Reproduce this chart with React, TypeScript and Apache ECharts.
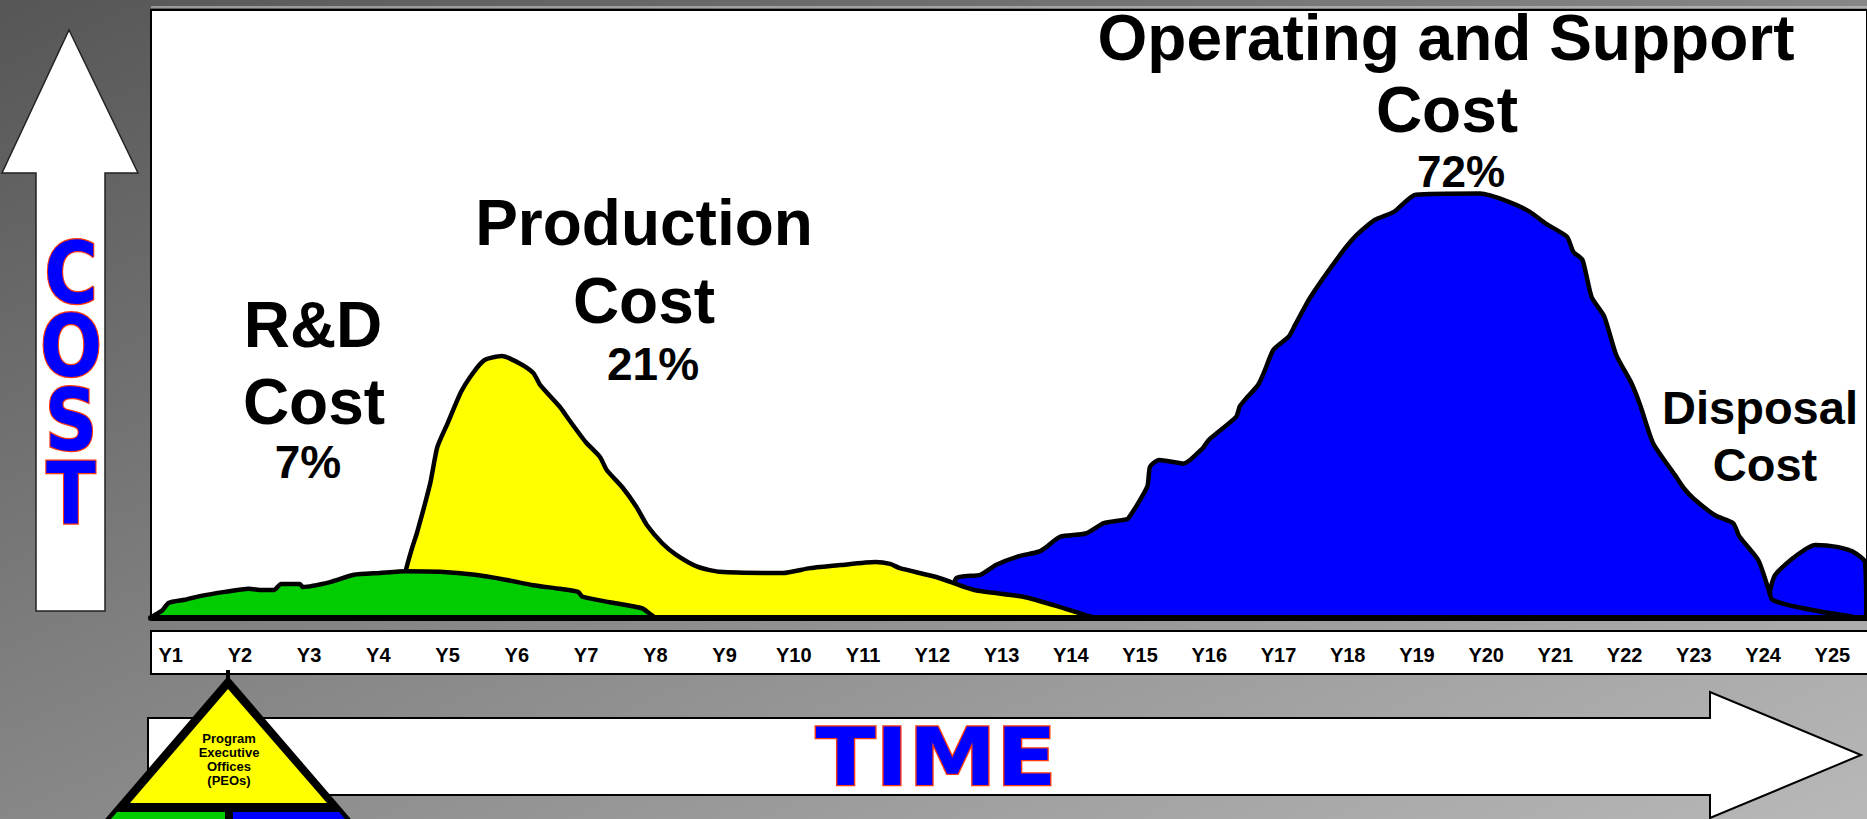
import React, { useEffect, useRef } from "react";
import * as echarts from "echarts";

// Year tick labels
const years = [
  "Y1","Y2","Y3","Y4","Y5","Y6","Y7","Y8","Y9","Y10","Y11","Y12","Y13",
  "Y14","Y15","Y16","Y17","Y18","Y19","Y20","Y21","Y22","Y23","Y24","Y25",
];

// Curves: [year position (1 = Y1), relative cost (0..100 of plot height)]
const rdCurve: [number, number][] = [
  [0.72,0],[0.77,0.5],[0.87,1.2],[0.97,2.5],[1.2,3.0],[1.41,3.6],[1.77,4.3],[2.11,4.8],
  [2.3,4.6],[2.47,4.6],[2.57,5.6],[2.84,5.6],[2.88,5.1],[3.27,5.9],[3.61,7.1],[3.98,7.4],
  [4.35,7.7],[4.84,7.6],[5.34,7.1],[5.77,6.3],[6.17,5.4],[6.55,4.8],[6.81,4.3],[6.87,3.5],
  [7.26,2.6],[7.72,1.6],[7.82,0.8],[7.91,0],
];

const productionCurve: [number, number][] = [
  [4.27,0],[4.35,7.7],[4.44,11.5],[4.51,14.0],[4.7,22.2],[4.8,28.1],[4.95,32.1],[5.14,37.2],
  [5.31,40.3],[5.47,42.4],[5.72,43.1],[5.97,41.9],[6.17,40.3],[6.27,38.3],[6.55,34.7],
  [6.68,32.6],[6.92,28.9],[7.12,26.5],[7.22,24.3],[7.44,21.5],[7.64,18.3],[7.79,15.3],
  [8.01,12.3],[8.21,10.4],[8.52,8.4],[8.83,7.6],[9.73,7.4],[10.12,8.2],[10.55,8.7],
  [11.05,9.2],[11.26,8.9],[11.4,8.2],[11.93,6.7],[12.46,4.6],[13.16,3.5],[13.69,1.8],
  [14.04,0.5],[14.19,0],
];

const operatingCurve: [number, number][] = [
  [12.15,0],[12.2,6.5],[12.55,7.1],[12.77,8.7],[13.08,10.1],[13.38,10.9],[13.47,11.5],
  [13.69,13.4],[14.05,13.9],[14.31,15.6],[14.57,16.1],[14.66,16.4],[14.93,21.6],[14.97,24.9],
  [15.1,26.0],[15.45,25.4],[15.72,27.9],[15.81,29.3],[16.2,33.1],[16.25,34.8],[16.34,36.1],
  [16.51,38.3],[16.6,40.5],[16.73,44.1],[16.95,46.3],[17.04,48.2],[17.26,52.8],[17.7,60.0],
  [17.92,63.0],[18.18,65.5],[18.45,66.8],[18.76,69.6],[19.68,69.8],[20.08,68.5],[20.39,66.8],
  [20.61,64.9],[20.92,62.7],[21.01,60.2],[21.14,58.9],[21.27,52.8],[21.45,49.6],[21.62,43.3],
  [21.84,38.6],[21.97,34.8],[22.15,28.7],[22.46,23.5],[22.59,21.3],[22.72,19.7],[23.03,16.9],
  [23.29,15.6],[23.38,13.4],[23.65,9.5],[23.79,4.9],[23.85,3.0],[24.2,1.8],[24.57,1.0],
  [25.0,0.2],[25.04,0],
];

const disposalCurve: [number, number][] = [
  [23.8,0],[23.82,4.6],[23.89,7.1],[24.15,9.9],[24.46,12.0],[24.77,11.7],[25.0,10.9],
  [25.17,9.2],[25.19,0],
];

const X_MIN = 0.715;
const X_MAX = 25.2;

const LABEL_FONT = '"Liberation Sans", Arial, Helvetica, sans-serif';
const HEAVY_FONT = '"DejaVu Sans", "Liberation Sans", sans-serif';

function txt(text: string, x: number, y: number, size: number, extra: any = {}) {
  return {
    type: "text",
    x,
    y,
    z: 20,
    style: {
      text,
      x: 0,
      y: 0,
      fill: "#000",
      font: `bold ${size}px ${LABEL_FONT}`,
      textAlign: "center",
      textVerticalAlign: "middle",
      align: "center",
      verticalAlign: "middle",
    },
    ...extra,
  };
}

function heavy(text: string, x: number, y: number, size: number, scaleX: number) {
  return {
    type: "text",
    x,
    y,
    z: 20,
    scaleX,
    style: {
      text,
      x: 0,
      y: 0,
      fill: "#0000ff",
      stroke: "#ff3a10",
      lineWidth: 2.5,
      font: `bold ${size}px ${HEAVY_FONT}`,
      textAlign: "center",
      textVerticalAlign: "middle",
      align: "center",
      verticalAlign: "middle",
    },
  };
}

function areaSeries(name: string, data: [number, number][], color: string, z: number) {
  return {
    name,
    type: "line",
    xAxisIndex: 0,
    yAxisIndex: 0,
    data,
    z,
    smooth: 0.2,
    symbol: "none",
    showSymbol: false,
    lineStyle: { color: "#000", width: 4.5, join: "round", cap: "round" },
    areaStyle: { color, opacity: 1, origin: "start" },
    silent: true,
  };
}

export default function App() {
  const ref = useRef<HTMLDivElement>(null);

  useEffect(() => {
    if (!ref.current) return;
    const chart = echarts.init(ref.current, undefined, { renderer: "svg" });

    const graphic: any[] = [
      // thin light line above the plot box
      {
        type: "line",
        z: 1,
        shape: { x1: 151, y1: 7, x2: 1867, y2: 7 },
        style: { stroke: "#d8d8d8", lineWidth: 1 },
      },
      // up arrow (COST)
      {
        type: "polygon",
        z: 1,
        shape: {
          points: [[69, 30], [138, 173], [105, 173], [105, 611], [36, 611], [36, 173], [2, 173]],
        },
        style: { fill: "#fff", stroke: "#222", lineWidth: 1.5 },
      },
      heavy("C", 71, 274, 85, 0.86),
      heavy("O", 71, 347, 85, 0.86),
      heavy("S", 71, 421, 85, 0.86),
      heavy("T", 71, 494, 85, 0.86),
      // year label box
      {
        type: "rect",
        z: 1,
        shape: { x: 151, y: 631, width: 1730, height: 43 },
        style: { fill: "#fff", stroke: "#000", lineWidth: 2 },
      },
      // TIME arrow
      {
        type: "polygon",
        z: 1,
        shape: {
          points: [[148, 718], [1710, 718], [1710, 692], [1861, 755], [1710, 818], [1710, 795], [148, 795]],
        },
        style: { fill: "#fff", stroke: "#000", lineWidth: 2 },
      },
      heavy("TIME", 936, 757, 81, 1.09),
      // PEO triangle
      {
        type: "rect",
        z: 3,
        shape: { x: 226, y: 670, width: 4, height: 12 },
        style: { fill: "#000" },
      },
      {
        type: "polygon",
        z: 3,
        shape: { points: [[228, 676], [362, 832], [94, 832]] },
        style: { fill: "#000" },
      },
      {
        type: "polygon",
        z: 4,
        shape: { points: [[228, 689], [327, 803], [130, 803]] },
        style: { fill: "#ffff00" },
      },
      {
        type: "polygon",
        z: 4,
        shape: { points: [[117, 812], [225, 812], [225, 832], [100, 832]] },
        style: { fill: "#00cc00" },
      },
      {
        type: "polygon",
        z: 4,
        shape: { points: [[233, 812], [339, 812], [356, 832], [233, 832]] },
        style: { fill: "#0000ff" },
      },
      txt("Program", 229, 738, 13, { z: 21 }),
      txt("Executive", 229, 752, 13, { z: 21 }),
      txt("Offices", 229, 766, 13, { z: 21 }),
      txt("(PEOs)", 229, 780, 13, { z: 21 }),
      // annotations
      txt("Operating and Support", 1446, 38, 64),
      txt("Cost", 1447, 110, 64),
      txt("72%", 1461, 171, 44),
      txt("Production", 644, 223, 64),
      txt("Cost", 644, 301, 64),
      txt("21%", 653, 364, 46),
      txt("R&D", 313, 325, 64),
      txt("Cost", 314, 402, 64),
      txt("7%", 308, 462, 46),
      txt("Disposal", 1760, 407, 47),
      txt("Cost", 1765, 464, 47),
    ];

    chart.setOption({
      animation: false,
      backgroundColor: new echarts.graphic.LinearGradient(0, 0, 1, 1, [
        { offset: 0, color: "#565656" },
        { offset: 1, color: "#b8b8b8" },
      ]),
      grid: [
        {
          left: 151,
          top: 10,
          right: 0,
          height: 608,
          show: true,
          backgroundColor: "#fff",
          borderColor: "#000",
          borderWidth: 2,
          z: 0,
        },
        { left: 136, top: 654, width: 1752, height: 1 },
      ],
      xAxis: [
        {
          type: "value",
          gridIndex: 0,
          min: X_MIN,
          max: X_MAX,
          axisLabel: { show: false },
          axisTick: { show: false },
          splitLine: { show: false },
          axisLine: { show: true, onZero: true, lineStyle: { color: "#000", width: 6 } },
          z: 10,
        },
        {
          type: "category",
          gridIndex: 1,
          data: years,
          boundaryGap: true,
          axisLine: { show: false },
          axisTick: { show: false },
          splitLine: { show: false },
          axisLabel: {
            margin: 0,
            interval: 0,
            verticalAlign: "middle",
            color: "#000",
            fontSize: 20,
            fontWeight: "bold",
            fontFamily: LABEL_FONT,
          },
          z: 10,
        },
      ],
      yAxis: [
        { type: "value", gridIndex: 0, min: 0, max: 100, show: false },
        { type: "value", gridIndex: 1, show: false },
      ],
      series: [
        areaSeries("Disposal Cost", disposalCurve, "#0000ff", 2),
        areaSeries("Operating and Support Cost", operatingCurve, "#0000ff", 3),
        areaSeries("Production Cost", productionCurve, "#ffff00", 4),
        areaSeries("R&D Cost", rdCurve, "#00cc00", 5),
      ],
      graphic,
    });

    return () => {
      chart.dispose();
    };
  }, []);

  return (
    <div
      ref={ref}
      style={{ position: "fixed", left: 0, top: 0, width: 1867, height: 819 }}
    />
  );
}
